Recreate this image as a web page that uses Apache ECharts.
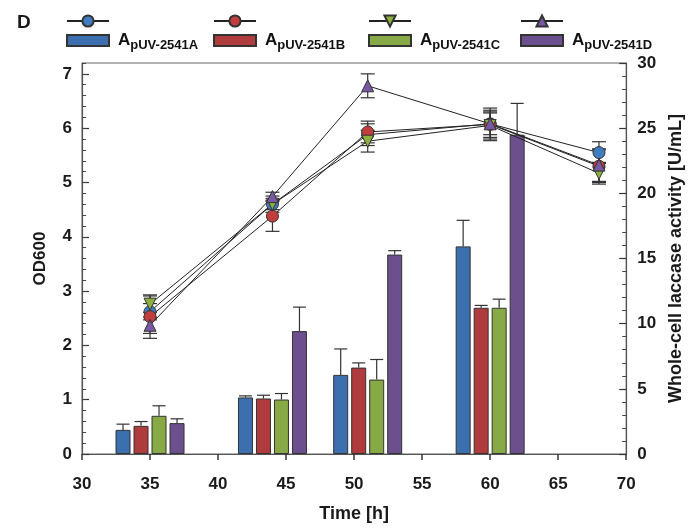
<!DOCTYPE html>
<html>
<head>
<meta charset="utf-8">
<script src="https://cdn.jsdelivr.net/npm/echarts@6/dist/echarts.min.js"></script>
<style>
  html, body { margin: 0; padding: 0; background: #fff; }
  #chart { width: 693px; height: 528px; }
</style>
</head>
<body>
<div id="chart"></div>
<script>
// sampling times [h]
const lineTimes = [35, 44, 51, 60, 68];
const barTimes = [35, 44, 51, 60];

const strains = ['pUV-2541A', 'pUV-2541B', 'pUV-2541C', 'pUV-2541D'];

// OD600 (left axis) and its error
const odA = [2.62, 4.60, 5.88, 6.08, 5.55];
const odB = [2.53, 4.38, 5.93, 6.07, 5.30];
const odC = [2.76, 4.60, 5.76, 6.05, 5.17];
const odD = [2.37, 4.74, 6.78, 6.08, 5.32];
const odErrA = [0.15, 0.10, 0.20, 0.25, 0.20];
const odErrB = [0.40, 0.28, 0.20, 0.30, 0.30];
const odErrC = [0.15, 0.15, 0.20, 0.25, 0.20];
const odErrD = [0.15, 0.08, 0.22, 0.20, 0.30];

// whole-cell laccase activity [U/mL] (right axis) and its error
const actA = [1.85, 4.34, 6.07, 15.93];
const actB = [2.16, 4.26, 6.63, 11.22];
const actC = [2.93, 4.18, 5.71, 11.22];
const actD = [2.37, 9.43, 15.30, 24.50];
const actErrA = [0.44, 0.12, 1.99, 2.00];
const actErrB = [0.33, 0.25, 0.36, 0.18];
const actErrC = [0.77, 0.46, 1.54, 0.66];
const actErrD = [0.33, 1.84, 0.30, 2.40];

const xTicks = { min: 30, max: 70, interval: 5 };
const leftTicks = { min: 0, max: 7.2, interval: 1 };
const rightTicks = { min: 0, max: 30, interval: 5 };

const od = [odA, odB, odC, odD];
const odErr = [odErrA, odErrB, odErrC, odErrD];
const act = [actA, actB, actC, actD];
const actErr = [actErrA, actErrB, actErrC, actErrD];

const barColors = ['#3b6fad', '#b03b3c', '#87a946', '#6c4f8d'];
const markColors = ['#3f7cc0', '#c23d3d', '#8cb040', '#7858a2'];
const symbols = ['circle', 'circle', 'triangle', 'triangle'];
const rotates = [0, 0, 180, 0];

const font = "'Liberation Sans', Arial, sans-serif";
const barWidth = 15;
const barStep = 18;

const series = [];

// bars
strains.forEach((s, i) => {
  series.push({
    name: s,
    type: 'bar',
    yAxisIndex: 1,
    barWidth: barWidth,
    barGap: '20%',
    data: barTimes.map((t, k) => [t, act[i][k]]),
    itemStyle: { color: barColors[i], borderColor: '#333', borderWidth: 1 },
    z: 2
  });
});

// bar error bars (upper only)
strains.forEach((s, i) => {
  series.push({
    type: 'custom',
    yAxisIndex: 1,
    z: 3,
    silent: true,
    encode: { x: 0, y: 1 },
    data: barTimes.map((t, k) => [t, act[i][k], actErr[i][k]]),
    renderItem: (params, api) => {
      const p0 = api.coord([api.value(0), api.value(1)]);
      const p1 = api.coord([api.value(0), api.value(1) + api.value(2)]);
      const x = p0[0] + (i - 1.5) * barStep;
      const st = { stroke: '#333', lineWidth: 1.2 };
      return {
        type: 'group',
        children: [
          { type: 'line', shape: { x1: x, y1: p0[1], x2: x, y2: p1[1] }, style: st },
          { type: 'line', shape: { x1: x - 6.5, y1: p1[1], x2: x + 6.5, y2: p1[1] }, style: st }
        ]
      };
    }
  });
});

// OD error bars
strains.forEach((s, i) => {
  series.push({
    type: 'custom',
    yAxisIndex: 0,
    z: 4,
    silent: true,
    encode: { x: 0, y: 1 },
    data: lineTimes.map((t, k) => [t, od[i][k], odErr[i][k]]),
    renderItem: (params, api) => {
      const lo = api.coord([api.value(0), api.value(1) - api.value(2)]);
      const hi = api.coord([api.value(0), api.value(1) + api.value(2)]);
      const x = lo[0];
      const st = { stroke: '#333', lineWidth: 1.2 };
      return {
        type: 'group',
        children: [
          { type: 'line', shape: { x1: x, y1: lo[1], x2: x, y2: hi[1] }, style: st },
          { type: 'line', shape: { x1: x - 7, y1: lo[1], x2: x + 7, y2: lo[1] }, style: st },
          { type: 'line', shape: { x1: x - 7, y1: hi[1], x2: x + 7, y2: hi[1] }, style: st }
        ]
      };
    }
  });
});

// OD lines
strains.forEach((s, i) => {
  series.push({
    name: 'OD ' + s,
    type: 'line',
    yAxisIndex: 0,
    z: 5,
    data: lineTimes.map((t, k) => [t, od[i][k]]),
    symbol: symbols[i],
    symbolRotate: rotates[i],
    symbolSize: 12,
    showAllSymbol: true,
    lineStyle: { color: '#222', width: 1 },
    itemStyle: { color: markColors[i], borderColor: '#333', borderWidth: 1 }
  });
});

const legendX = [66, 213, 368, 520];
const legends = [];
strains.forEach((s, i) => {
  legends.push({
    left: legendX[i], top: 14, padding: 0,
    itemWidth: 42, itemHeight: 14,
    selectedMode: false,
    data: ['OD ' + s],
    formatter: () => ''
  });
  legends.push({
    left: legendX[i], top: 32, padding: 0,
    itemWidth: 42, itemHeight: 11,
    icon: 'rect',
    selectedMode: false,
    data: [s],
    formatter: name => 'A{s|' + name + '}',
    textStyle: {
      fontFamily: font, fontSize: 17, fontWeight: 'bold', color: '#111',
      padding: [0, 0, 0, 4],
      rich: { s: { fontFamily: font, fontSize: 13, fontWeight: 'bold', color: '#111', padding: [10, 0, 0, 0] } }
    }
  });
});

const labelStyle = { fontFamily: font, fontSize: 17, fontWeight: 'bold', color: '#1a1a1a' };
const nameStyle = { fontFamily: font, fontSize: 18, fontWeight: 'bold', color: '#1a1a1a' };

const option = {
  animation: false,
  backgroundColor: '#fff',
  title: {
    text: 'D', left: 12, top: 8,
    textStyle: { fontFamily: font, fontSize: 19, fontWeight: 'bold', color: '#1a1a1a' }
  },
  legend: legends,
  grid: { left: 82, right: 65, top: 63, bottom: 73, show: true, borderColor: '#666', borderWidth: 1 },
  xAxis: {
    type: 'value',
    min: xTicks.min, max: xTicks.max, interval: xTicks.interval,
    name: 'Time [h]', nameLocation: 'middle', nameGap: 51, nameTextStyle: nameStyle,
    axisLine: { lineStyle: { color: '#555', width: 1.2 } },
    axisTick: { inside: false, length: 6, lineStyle: { color: '#333', width: 1.5 } },
    axisLabel: Object.assign({ margin: 22 }, labelStyle),
    splitLine: { show: false }
  },
  yAxis: [
    {
      type: 'value', position: 'left',
      min: leftTicks.min, max: leftTicks.max, interval: leftTicks.interval,
      name: 'OD600', nameLocation: 'middle', nameGap: 33,
      nameTextStyle: Object.assign({}, nameStyle, { fontSize: 17 }),
      axisLine: { show: true, lineStyle: { color: '#555', width: 1.2 } },
      axisTick: { inside: true, length: 7, lineStyle: { color: '#333', width: 1.2 } },
      axisLabel: Object.assign({ margin: 10, showMaxLabel: false }, labelStyle),
      splitLine: { show: false }
    },
    {
      type: 'value', position: 'right',
      min: rightTicks.min, max: rightTicks.max, interval: rightTicks.interval,
      name: 'Whole-cell laccase activity [U/mL]', nameLocation: 'middle', nameGap: 39,
      nameTextStyle: nameStyle,
      axisLine: { show: true, lineStyle: { color: '#555', width: 1.2 } },
      axisTick: { inside: true, length: 7, lineStyle: { color: '#333', width: 1.2 } },
      minorTick: { show: true, splitNumber: 5, length: 4, lineStyle: { color: '#444' } },
      axisLabel: Object.assign({ margin: 11 }, labelStyle),
      splitLine: { show: false }
    },
    {
      // minor ticks of the OD axis
      type: 'value', position: 'left',
      min: leftTicks.min, max: leftTicks.max, interval: 0.2,
      axisLine: { show: false },
      axisTick: { inside: true, length: 4, lineStyle: { color: '#444' } },
      axisLabel: { show: false },
      splitLine: { show: false }
    }
  ],
  series: series
};

const chart = echarts.init(document.getElementById('chart'));
chart.setOption(option);
</script>
</body>
</html>
